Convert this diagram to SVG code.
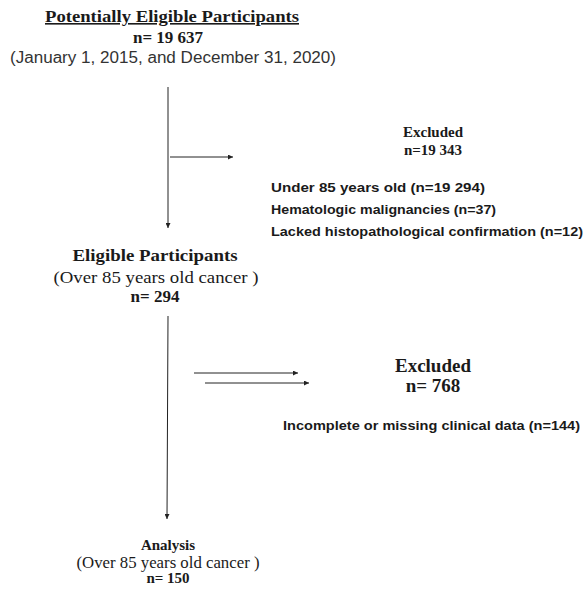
<svg xmlns="http://www.w3.org/2000/svg" width="586" height="592" viewBox="0 0 586 592">
<style>
.sb{font-family:"Liberation Serif","Times New Roman",serif;font-weight:bold;fill:#1a1a1a;text-anchor:middle}
.sr{font-family:"Liberation Serif","Times New Roman",serif;fill:#1a1a1a;text-anchor:middle}
.ss{font-family:"Liberation Sans",Arial,sans-serif;fill:#333}
.ssb{font-family:"Liberation Sans",Arial,sans-serif;font-weight:bold;fill:#1a1a1a}
.ln{stroke:#222;stroke-width:1;fill:none}
</style>
<defs>
<marker id="ah" viewBox="0 0 10 10" refX="10" refY="5" markerWidth="5" markerHeight="5" markerUnits="userSpaceOnUse" orient="auto">
<path d="M0,0 L10,5 L0,10 z" fill="#222"/>
</marker>
</defs>
<rect width="586" height="592" fill="#fff"/>
<g id="connectors">
<line class="ln" x1="168" y1="87" x2="168" y2="228" marker-end="url(#ah)"/>
<line class="ln" x1="170" y1="157" x2="233" y2="157" marker-end="url(#ah)"/>
<line class="ln" x1="168" y1="316" x2="167" y2="519" marker-end="url(#ah)"/>
<line class="ln" x1="194" y1="373" x2="298" y2="373" marker-end="url(#ah)"/>
<line class="ln" x1="205" y1="383" x2="309" y2="383" marker-end="url(#ah)"/>
</g>
<g id="node-potential">
<text class="sb" x="172" y="22" font-size="16" textLength="254" lengthAdjust="spacingAndGlyphs" text-decoration="underline">Potentially Eligible Participants</text>
<text class="sb" x="168" y="43" font-size="17">n= 19 637</text>
<text class="ss" x="173" y="63" font-size="16" text-anchor="middle" textLength="326" lengthAdjust="spacingAndGlyphs">(January 1, 2015, and December 31, 2020)</text>
</g>
<g id="node-excluded1">
<text class="sb" x="433" y="137" font-size="15">Excluded</text>
<text class="sb" x="433" y="155" font-size="15">n=19 343</text>
<text class="ssb" x="271" y="192" font-size="13" textLength="214" lengthAdjust="spacingAndGlyphs">Under 85 years old (n=19 294)</text>
<text class="ssb" x="271" y="214" font-size="13" textLength="225" lengthAdjust="spacingAndGlyphs">Hematologic malignancies (n=37)</text>
<text class="ssb" x="271" y="236" font-size="13" textLength="312" lengthAdjust="spacingAndGlyphs">Lacked histopathological confirmation (n=12)</text>
</g>
<g id="node-eligible">
<text class="sb" x="155" y="261" font-size="17" textLength="165" lengthAdjust="spacingAndGlyphs">Eligible Participants</text>
<text class="sr" x="156" y="283" font-size="17" textLength="205" lengthAdjust="spacingAndGlyphs">(Over 85 years old cancer )</text>
<text class="sb" x="155" y="302" font-size="17">n= 294</text>
</g>
<g id="node-excluded2">
<text class="sb" x="433" y="372" font-size="19">Excluded</text>
<text class="sb" x="433" y="392" font-size="19">n= 768</text>
<text class="ssb" x="283" y="430" font-size="13" textLength="297" lengthAdjust="spacingAndGlyphs">Incomplete or missing clinical data (n=144)</text>
</g>
<g id="node-analysis">
<text class="sb" x="168" y="550" font-size="15">Analysis</text>
<text class="sr" x="168" y="568" font-size="16" textLength="183" lengthAdjust="spacingAndGlyphs">(Over 85 years old cancer )</text>
<text class="sb" x="168" y="583" font-size="15">n= 150</text>
</g>
</svg>
